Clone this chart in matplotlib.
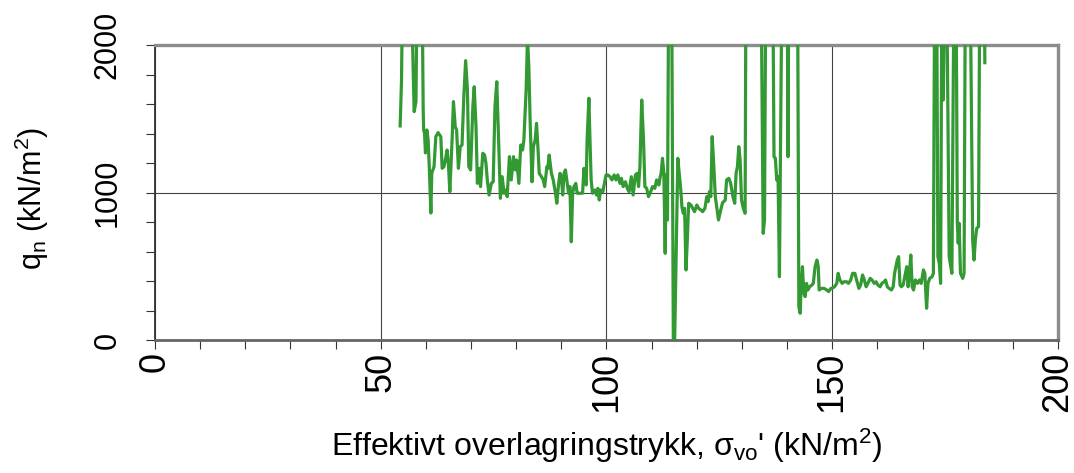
import matplotlib
matplotlib.use("Agg")
import matplotlib.pyplot as plt
from matplotlib.ticker import MultipleLocator

plt.rcParams['font.family'] = ['Liberation Sans', 'DejaVu Sans']
plt.rcParams['mathtext.fontset'] = 'custom'
plt.rcParams['mathtext.rm'] = 'Liberation Sans'
plt.rcParams['mathtext.it'] = 'Liberation Sans:italic'
plt.rcParams['mathtext.bf'] = 'Liberation Sans:bold'

# Effective overburden stress (kN/m2)
sigma_vo = [
    54.3, 54.6, 54.9, 56.6, 57.4, 57.8, 58.1, 59.1, 59.4, 59.5, 59.7, 59.9, 60.2, 60.5, 60.8,
    61.1, 61.3, 61.8, 62.2, 62.7, 63.3, 63.6, 64.0, 64.3, 64.7, 65.0, 65.3, 65.8, 66.1, 66.5,
    66.8, 67.2, 67.6, 68.0, 68.4, 68.8, 69.2, 69.5, 69.9, 70.4, 70.7, 71.1, 71.4, 71.8, 72.1,
    72.6, 73.0, 73.3, 73.6, 74.0, 74.5, 74.9, 75.3, 75.7, 76.1, 76.5, 76.9, 77.3, 77.7, 78.0,
    78.5, 78.9, 79.4, 79.8, 80.1, 80.6, 81.0, 81.4, 81.7, 82.2, 82.5, 82.8, 83.1, 83.5, 83.8,
    84.2, 84.5, 84.8, 85.1, 85.6, 86.0, 86.3, 86.8, 87.0, 87.3, 87.8, 88.2, 88.7, 89.0, 89.4,
    89.7, 90.0, 90.3, 90.6, 90.9, 91.3, 91.6, 91.9, 92.2, 92.5, 92.8, 93.2, 93.5, 94.1, 94.7,
    95.0, 95.5, 95.7, 96.1, 96.3, 96.6, 96.9, 97.4, 97.8, 98.1, 98.4, 98.7, 99.2, 99.4, 99.9,
    100.3, 100.8, 101.2, 101.7, 102.1, 102.5, 103.0, 103.3, 103.7, 104.2, 104.6, 105.0, 105.5,
    105.9, 106.4, 106.8, 107.1, 107.4, 107.8, 108.2, 108.5, 108.9, 109.3, 109.8, 110.2, 110.7,
    111.1, 111.6, 111.9, 112.1, 112.4, 112.7, 113.0, 113.2, 113.5, 113.8, 114.4, 114.8, 115.1,
    115.8, 116.1, 116.4, 116.7, 117.0, 117.3, 117.6, 117.9, 118.2, 118.7, 119.1, 119.5, 120.0,
    120.4, 120.9, 121.3, 121.8, 122.2, 122.5, 122.8, 123.1, 123.4, 123.7, 124.1, 124.5, 124.8,
    125.3, 125.7, 126.3, 126.6, 127.1, 127.5, 128.0, 128.4, 128.7, 129.0, 129.3, 129.6, 129.9,
    130.3, 130.7, 130.9, 134.2, 134.7, 135.0, 135.3, 136.8, 137.1, 137.4, 137.7, 138.0, 138.3,
    138.9, 140.0, 140.2, 140.4, 142.3, 142.6, 142.9, 143.1, 143.4, 143.7, 144.0, 144.3, 144.6,
    145.0, 145.5, 145.8, 146.2, 146.6, 146.9, 147.1, 147.6, 148.2, 148.8, 149.2, 149.7, 150.2,
    150.5, 151.0, 151.3, 151.7, 152.2, 152.6, 153.2, 153.6, 154.1, 154.5, 155.0, 155.4, 155.9,
    156.3, 156.7, 157.0, 157.5, 157.9, 158.4, 158.8, 159.3, 159.7, 160.1, 160.6, 161.0, 161.5,
    161.8, 162.2, 162.6, 163.1, 163.5, 163.8, 164.1, 164.4, 164.7, 165.0, 165.3, 165.7, 166.2,
    166.5, 166.8, 167.1, 167.4, 167.7, 168.0, 168.4, 168.9, 169.3, 169.7, 170.2, 170.5, 170.9,
    171.2, 171.6, 172.1, 172.4, 172.7, 173.1, 173.4, 173.7, 174.0, 174.3, 174.6, 175.0, 175.3,
    175.9, 176.5, 177.0, 177.4, 177.7, 177.9, 178.1, 178.4, 178.9, 179.2, 179.5, 180.5, 181.1,
    181.4, 181.7, 182.0, 182.4, 182.7, 183.6, 183.8,
]

# Net cone resistance q_n (kN/m2); values above 2000 run off the top of the plot
q_n = [
    1451, 1763, 2600, 2600, 1548, 1616, 2600, 2600, 1559, 1424, 1403, 1268, 1424, 1356, 1132,
    861, 1132, 1175, 1379, 1406, 1379, 1164, 1175, 1220, 1288, 1186, 1006, 1356, 1616, 1446,
    1424, 1164, 1311, 1322, 1650, 1894, 1695, 1175, 1153, 1582, 1717, 1446, 1062, 1164, 1040,
    1266, 1254, 1198, 1085, 983, 1062, 1073, 1582, 1751, 1356, 961, 1107, 995, 1017, 972,
    1243, 1085, 1243, 1153, 1220, 1062, 1322, 1288, 1356, 1695, 2050, 1853, 1469, 1073, 1311,
    1356, 1469, 1311, 1130, 1107, 1085, 1040, 1175, 1164, 1254, 1130, 1085, 995, 927, 1062,
    1130, 1107, 983, 1130, 1153, 1062, 995, 1040, 666, 995, 1040, 1062, 995, 995, 995,
    1164, 1051, 1356, 1639, 1401, 1085, 995, 1017, 983, 1028, 949, 1017, 1006, 1040, 1119,
    1119, 1107, 1085, 1119, 1085, 1119, 1062, 1096, 1040, 1073, 1028, 1006, 1107,
    983, 1119, 1130, 1040, 1175, 1627, 1356, 1040, 1028, 972, 1006, 1040, 1028,
    1085, 1051, 1107, 1130, 1232, 1130, 588, 1119, 814, 2600, 2600, 0, 0,
    1232, 1130, 1040, 904, 859, 893, 475, 678, 927, 915, 893, 870, 915,
    893, 881, 870, 893, 972, 938, 1006, 972, 1379, 1220, 972, 881, 814,
    881, 930, 949, 1085, 1096, 1062, 972, 927, 1130, 1175, 1311, 1220, 949,
    893, 859, 2600, 2600, 723, 814, 2600, 2600, 1243, 1232, 1085, 1107, 429,
    2600, 2600, 1243, 2600, 2600, 226, 181, 361, 497, 317, 294, 384, 339,
    361, 373, 384, 497, 542, 497, 339, 350, 350, 339, 328, 350, 355,
    361, 384, 452, 407, 384, 395, 395, 384, 407, 452, 452, 407, 350,
    373, 441, 418, 361, 384, 418, 407, 384, 395, 373, 361, 384, 395,
    407, 361, 350, 339, 361, 452, 497, 542, 565, 373, 361, 373, 452,
    497, 361, 452, 576, 361, 339, 407, 384, 407, 384, 475, 452, 215,
    384, 418, 429, 452, 2600, 2600, 565, 520, 384, 2600, 1627, 2600, 2600,
    565, 452, 2600, 2600, 791, 656, 791, 452, 418, 452, 2600, 2600, 678,
    542, 678, 757, 769, 2600, 2600, 1880,
]

x_major = [0, 50, 100, 150, 200]
y_major = [0, 1000, 2000]

fig = plt.figure(figsize=(10.74, 4.73), dpi=100)
ax = fig.add_axes([155/1074, 1-340/473, 903/1074, 295/473])

ax.plot(sigma_vo, q_n, color='#339933', lw=2.3, solid_joinstyle='round', zorder=3)

ax.set_xlim(0, 200)
ax.set_ylim(0, 2000)
ax.set_xticks(x_major)
ax.set_yticks(y_major)
ax.xaxis.set_minor_locator(MultipleLocator(10))
ax.yaxis.set_minor_locator(MultipleLocator(200))

ax.grid(True, which='major', color='#444444', lw=0.8, zorder=1)
ax.set_axisbelow(True)

for s in ['top', 'right']:
    ax.spines[s].set_color('#8c8c8c')
    ax.spines[s].set_linewidth(2.4)
ax.spines['bottom'].set_color('#666666')
ax.spines['bottom'].set_linewidth(2.0)
ax.spines['left'].set_color('#333333')
ax.spines['left'].set_linewidth(1.3)

ax.tick_params(axis='both', which='both', direction='out', length=6.5, width=0.8, color='#333333')
ax.tick_params(axis='x', which='major', labelsize=26, pad=2, labelrotation=90)
ax.tick_params(axis='y', which='major', labelsize=22, pad=17, labelrotation=90)
for lab in ax.get_yticklabels():
    lab.set_va('center')

fig.text(32/1074, 1-198/473, r"q$_{\mathrm{n}}$ (kN/m$^{2}$)", rotation=90,
         ha='center', va='center', fontsize=22)
fig.text(607/1074, 1-446/473, r"Effektivt overlagringstrykk, σ$_{\mathrm{vo}}$' (kN/m$^{2}$)",
         ha='center', va='center', fontsize=23)

fig.savefig('out.png', dpi=100)
